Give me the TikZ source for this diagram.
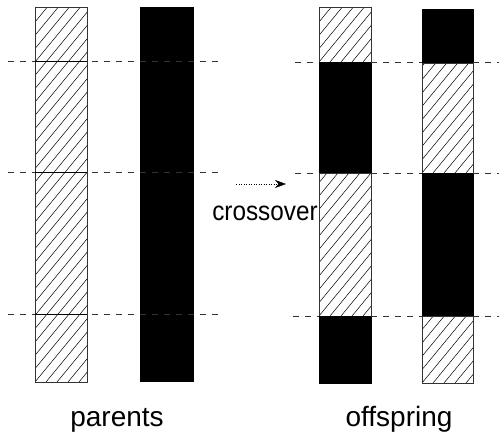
\documentclass[tikz,border=0pt]{standalone}
\usepackage{fontspec}
\setmainfont{Liberation Sans}
\usetikzlibrary{arrows.meta}
\tikzset{
  hatchline/.style={line width=0.5pt,black},
  barframe/.style={line width=0.5pt,black!80},
  blackbar/.style={fill=black,draw=black,line width=0.5pt},
  cutline/.style={dashed,dash pattern=on 6pt off 6pt,line width=0.5pt,black!80},
  bandline/.style={line width=1pt,black},
  label/.style={inner sep=0pt,anchor=base,font=\fontsize{28}{32}\selectfont},
}
\newcommand\hatchseg[4]{%
  \begin{scope}
    \clip (#1,#2) rectangle (#3,#4);
    \foreach \i in {-330,-319,...,500} {\draw[hatchline] (#1+\i,#4) -- ++(330,-400);}
  \end{scope}
  \draw[barframe] (#1,#2) rectangle (#3,#4);}
\begin{document}
\begin{tikzpicture}[x=1pt,y=-1pt]
\useasboundingbox (0,0) rectangle (499,437);
% parents
\hatchseg{35}{7}{87}{382}
\draw[blackbar] (140,7) rectangle (193,381);
\draw[cutline] (8,61) -- (218,61);
\draw[cutline] (8,172) -- (218,172);
\draw[cutline] (8,314) -- (218,314);
\draw[bandline] (35,61) -- (87,61);
\draw[bandline] (35,172) -- (87,172);
\draw[bandline] (35,314) -- (87,314);
% offspring 1
\hatchseg{319}{7}{371}{62}
\draw[blackbar] (319,62) rectangle (371,173);
\hatchseg{319}{173}{371}{316}
\draw[blackbar] (319,316) rectangle (371,383);
% offspring 2
\draw[blackbar] (422,9) rectangle (473,63);
\hatchseg{422}{63}{473}{173}
\draw[blackbar] (422,173) rectangle (473,316);
\hatchseg{422}{316}{473}{383}
% offspring cut lines
\draw[cutline] (295,62) -- (319,62);
\draw[cutline] (371,62) -- (422,62);
\draw[cutline] (473,62) -- (499,62);
\draw[cutline] (295,173) -- (319,173);
\draw[cutline] (371,173) -- (422,173);
\draw[cutline] (473,173) -- (499,173);
\draw[cutline] (293,316) -- (319,316);
\draw[cutline] (371,316) -- (422,316);
\draw[cutline] (473,316) -- (499,316);
% arrow
\coordinate (a1) at (236,184);
\coordinate (a2) at (286,184);
\draw[line width=0.5pt,dotted,-{Stealth[length=11pt,width=8pt]}] (a1) -- (a2);
\node[inner sep=0pt,anchor=base,font=\fontsize{27}{32}\selectfont,xscale=0.9] (cross) at (265,220.5) {crossover};
\node[label] (par) at (117,426) {parents};
\node[label] (off) at (399,426) {offspring};
\end{tikzpicture}
\end{document}
